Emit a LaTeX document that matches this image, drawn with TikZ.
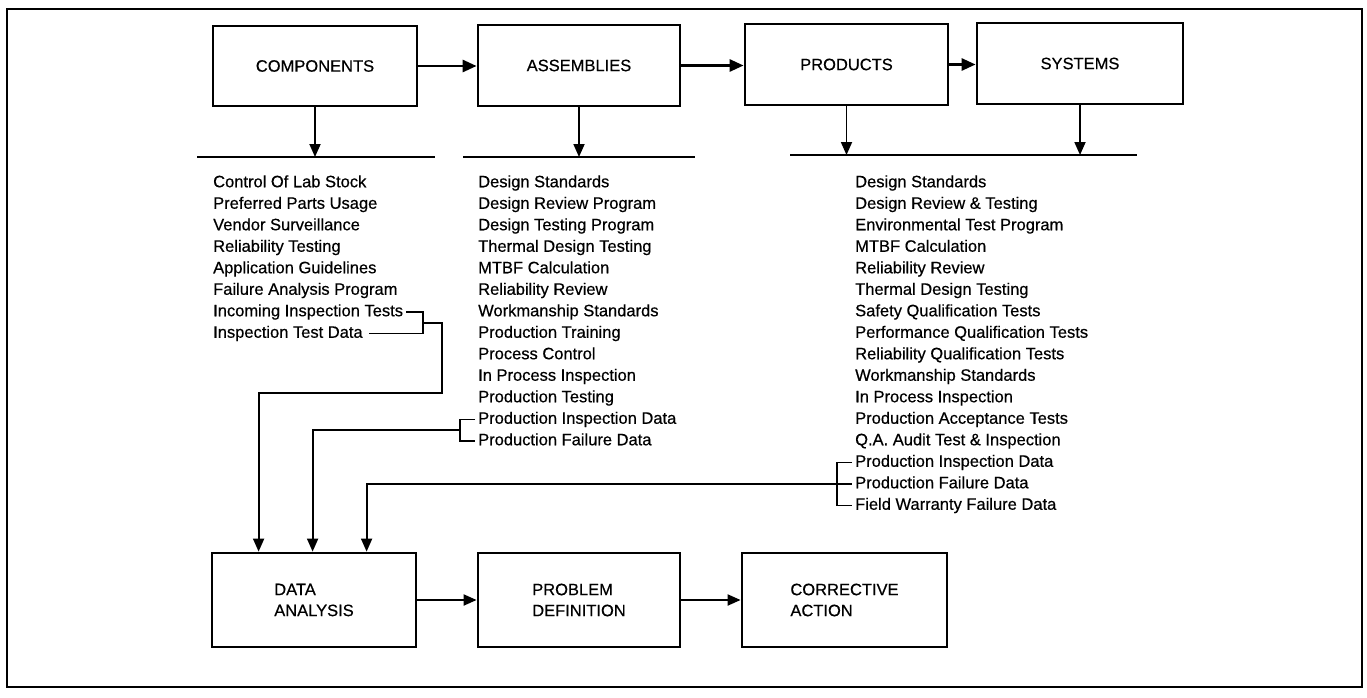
\documentclass[tikz,border=0pt]{standalone}
\usepackage{fontspec}
\setmainfont{Liberation Sans}
\newfontfamily\medfont{Liberation Sans}[FakeBold=0.5]
\usetikzlibrary{arrows.meta,calc}
\begin{document}
\begin{tikzpicture}[x=1pt,y=-1pt,
  box/.style={draw,line width=2.8pt,inner sep=0pt,align=left,
    font=\medfont\fontsize{16.5}{21}\selectfont},
  item/.style={anchor=west,inner sep=0pt,text height=12pt,text depth=3.5pt,
    font=\medfont\fontsize{16.5}{20}\selectfont},
  bus/.style={line width=2.8pt},
  ln/.style={line width=1.8pt},
  arr/.style={line width=1.8pt,-{Triangle[length=13pt,width=11pt]}},
  harr/.style={line width=2.8pt,-{Triangle[length=14pt,width=12pt]}}]
\useasboundingbox (0,0) rectangle (1367,698);
\draw[line width=2.4pt] (7,9) rectangle (1362,687);
% top boxes
\node[box,minimum width=204pt,minimum height=80pt] (comp) at (315,66) {COMPONENTS};
\node[box,minimum width=202pt,minimum height=81pt] (assm) at (579,65.5) {ASSEMBLIES};
\node[box,minimum width=203pt,minimum height=81pt] (prod) at (846.5,64.5) {PRODUCTS};
\node[box,minimum width=206pt,minimum height=81pt] (sys) at (1080,63.5) {SYSTEMS};
% bottom boxes
\node[box,minimum width=204pt,minimum height=94pt] (data) at (314,600) {DATA\\ANALYSIS};
\node[box,minimum width=202pt,minimum height=94pt] (prob) at (579,600) {PROBLEM\\DEFINITION};
\node[box,minimum width=205pt,minimum height=94pt] (corr) at (844.5,600) {CORRECTIVE\\ACTION};
% top flow
\draw[harr] (comp.east) -- (comp.east -| assm.west);
\draw[harr] (assm.east) -- (assm.east -| prod.west);
\draw[harr] (prod.east) -- (prod.east -| sys.west);
% bottom flow
\draw[arr,line width=2pt] (data.east) -- (data.east -| prob.west);
\draw[arr,line width=2pt] (prob.east) -- (prob.east -| corr.west);
% buses
\coordinate (cbus1) at (197,157); \coordinate (cbus2) at (435,157);
\coordinate (abus1) at (463,157); \coordinate (abus2) at (695,157);
\coordinate (pbus1) at (790,155); \coordinate (pbus2) at (1137,155);
\draw[bus] (cbus1) -- (cbus2);
\draw[bus] (abus1) -- (abus2);
\draw[bus] (pbus1) -- (pbus2);
\draw[arr] (comp.south) -- (comp.south |- cbus1);
\draw[arr] (assm.south) -- (assm.south |- abus1);
\draw[arr] (prod.south) -- (prod.south |- pbus1);
\draw[arr] (sys.south) -- (sys.south |- pbus1);
% lists
\foreach \t [count=\i] in {Control Of Lab Stock,Preferred Parts Usage,Vendor Surveillance,Reliability Testing,Application Guidelines,Failure Analysis Program,Incoming Inspection Tests,Inspection Test Data}
  \node[item] (c\i) at (213,{183+21.5*(\i-1)}) {\t};
\foreach \t [count=\i] in {Design Standards,Design Review Program,Design Testing Program,Thermal Design Testing,MTBF Calculation,Reliability Review,Workmanship Standards,Production Training,Process Control,In Process Inspection,Production Testing,Production Inspection Data,Production Failure Data}
  \node[item] (a\i) at (478,{183+21.5*(\i-1)}) {\t};
\foreach \t [count=\i] in {Design Standards,Design Review \& Testing,Environmental Test Program,MTBF Calculation,Reliability Review,Thermal Design Testing,Safety Qualification Tests,Performance Qualification Tests,Reliability Qualification Tests,Workmanship Standards,In Process Inspection,Production Acceptance Tests,Q.A. Audit Test \& Inspection,Production Inspection Data,Production Failure Data,Field Warranty Failure Data}
  \node[item] (p\i) at (855,{183+21.5*(\i-1)}) {\t};
% data analysis inputs
\coordinate (d1) at ([xshift=48pt]data.north west);
\coordinate (d2) at ([xshift=102pt]data.north west);
\coordinate (d3) at ([xshift=156pt]data.north west);
% components bracket
\coordinate (cb) at (423,0);
\draw[ln] ([xshift=3pt]c7.east) -- (c7.east -| cb) -- (c8.east -| cb) -- ([xshift=6pt]c8.east);
\coordinate (cm) at ($(c7.east -| cb)!0.5!(c8.east -| cb)$);
\coordinate (cr) at ([xshift=19pt]cm);
\coordinate (cturn) at (cr |- 0,393);
\draw[arr] (cm) -- (cr) -- (cturn) -| (d1);
% assemblies bracket
\coordinate (ab) at (460,0);
\draw[ln] ([xshift=-3pt]a12.west) -- (a12.west -| ab) -- (a13.west -| ab) -- ([xshift=-3pt]a13.west);
\coordinate (am) at ($(a12.west -| ab)!0.5!(a13.west -| ab)$);
\draw[arr] (am) -| (d2);
% products bracket
\coordinate (pb) at (837,0);
\draw[ln] ([xshift=-3pt]p14.west) -- (p14.west -| pb) -- (p16.west -| pb) -- ([xshift=-3pt]p16.west);
\draw[ln] (p15.west -| pb) -- ([xshift=-3pt]p15.west);
\draw[arr] (p15.west -| pb) -| (d3);
\end{tikzpicture}
\end{document}
